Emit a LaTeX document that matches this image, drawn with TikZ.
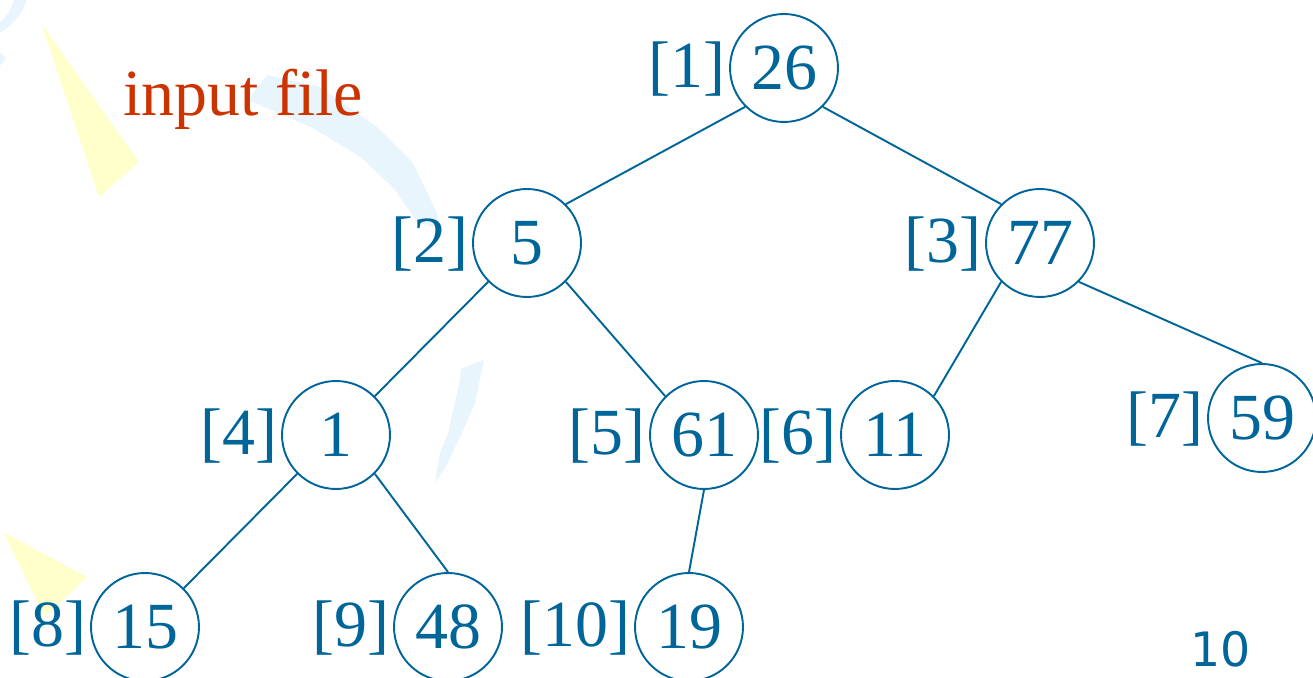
\documentclass[tikz,border=0pt]{standalone}
\usepackage{fontspec}
\setmainfont{Liberation Serif}
\newfontfamily\pagefont{DejaVu Sans}
\usetikzlibrary{calc}
\definecolor{heapblue}{RGB}{0,102,153}
\definecolor{titlered}{RGB}{204,51,0}
\definecolor{decoyellow}{RGB}{255,255,204}
\definecolor{decoblue}{RGB}{232,245,253}
\begin{document}
\begin{tikzpicture}[x=0.02cm,y=-0.02cm,
  heapnode/.style={circle,draw=heapblue,line width=1.1pt,text=heapblue,
    minimum size=2.16cm,inner sep=0pt,font=\fontsize{37.5}{40}\selectfont},
  idxlabel/.style={anchor=base east,inner sep=0pt,text=heapblue,
    font=\fontsize{37.5}{40}\selectfont},
  heapedge/.style={draw=heapblue,line width=1.1pt}]
\useasboundingbox (0,0) rectangle (1313,678);
% background decorations
\fill[decoyellow] (41,23) -- (139,162) -- (99,197) -- cycle;
\fill[decoyellow] (3,532) -- (87,577) -- (45,617) -- cycle;
\fill[decoblue] (248,100) -- (267,75) -- (320,87) -- (377,127) -- (413,163) -- (437,213) -- (438,228) -- (417,222) -- (395,190) -- (362,158) -- (313,128) -- cycle;
\fill[decoblue] (461,369) -- (484,360) -- (475,403) -- (462,433) -- (445,468) -- (435,483) -- (440,453) -- (448,433) -- (460,380) -- cycle;
\fill[decoblue] (27,0) .. controls (22,15) and (12,25) .. (0,33) -- (0,22) .. controls (8,15) and (12,8) .. (14,0) -- cycle;
\fill[decoblue] (0,52) -- (6,58) -- (0,66) -- cycle;
% title
\node[anchor=base west,inner sep=0pt,text=titlered,font=\fontsize{37.5}{40}\selectfont] (title) at (123,116) {input file};
% heap nodes
\node[heapnode] (n1) at (784,68) {26};
\node[heapnode] (n2) at (527,243) {5};
\node[heapnode] (n3) at (1040,243) {77};
\node[heapnode] (n4) at (336,435) {1};
\node[heapnode] (n5) at (704,435) {61};
\node[heapnode] (n6) at (895,435) {11};
\node[heapnode] (n7) at (1262,418) {59};
\node[heapnode] (n8) at (145,627) {15};
\node[heapnode] (n9) at (448,627) {48};
\node[heapnode] (n10) at (689,627) {19};
% index labels
\foreach \i in {1,...,10}{
  \node[idxlabel] (l\i) at ($(n\i.west)+(-3,20)$) {[\i]};
}
% edges
\draw[heapedge] (n1.south west) -- (n2.north east);
\draw[heapedge] (n1.south east) -- (n3.north west);
\draw[heapedge] (n2.south west) -- (n4.north east);
\draw[heapedge] (n2.south east) -- (n5.north west);
\draw[heapedge] (n3.south west) -- (n6.north east);
\draw[heapedge] (n3.south east) -- (n7.north);
\draw[heapedge] (n4.south west) -- (n8.north east);
\draw[heapedge] (n4.south east) -- (n9.north);
\draw[heapedge] (n5.south) -- (n10.north);
% page number
\node[anchor=base east,inner sep=0pt,text=heapblue,font=\pagefont\fontsize{27}{30}\selectfont] (pagenum) at (1251,667) {10};
\end{tikzpicture}
\end{document}
